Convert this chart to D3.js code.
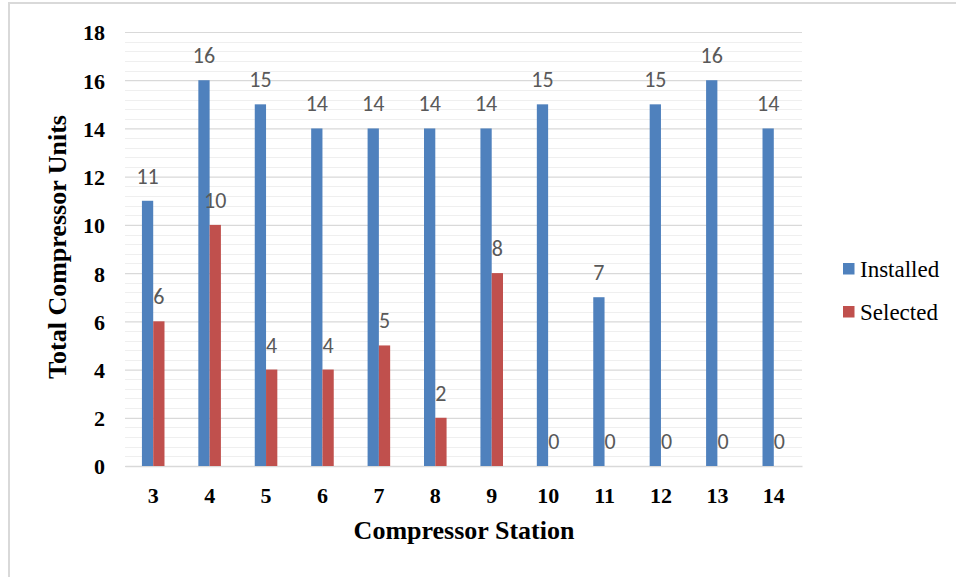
<!DOCTYPE html>
<html>
<head>
<meta charset="utf-8">
<script src="https://cdn.jsdelivr.net/npm/d3@7"></script>
<style>
html,body{margin:0;padding:0;background:#fff;}
svg{display:block;}
</style>
</head>
<body>
<svg id="chart" width="956" height="577"></svg>
<script>
const stations = ["3","4","5","6","7","8","9","10","11","12","13","14"];
const seriesNames = ["Installed","Selected"];
const installed = [11,16,15,14,14,14,14,15,7,15,16,14];
const selected = [6,10,4,4,5,2,8,0,0,0,0,0];
const yTicks = [0,2,4,6,8,10,12,14,16,18];
const colors = ["#4f81bd","#c0504d"];

const SERIF = "Liberation Serif, Times New Roman, serif";
const svg = d3.select("#chart");
const W = 956, H = 577;
const m = {left:125, right:802, top:32, bottom:466};

// frame
svg.append("rect").attr("x",9).attr("y",3).attr("width",W).attr("height",H)
  .attr("fill","#fff").attr("stroke","#d9d9d9").attr("stroke-width",2);

const x0 = d3.scaleBand().domain(stations).range([m.left, m.right]).padding(0);
const x1 = d3.scaleBand().domain(seriesNames).range([0, x0.bandwidth()]).paddingInner(0).paddingOuter(1.5);
const y = d3.scaleLinear().domain([0,18]).range([m.bottom, m.top]);

// minor gridlines
const minor = d3.range(0, 18.001, 0.4).filter(v => Math.abs(v/2 - Math.round(v/2)) > 1e-6);
svg.append("g").selectAll("line").data(minor).join("line")
  .attr("x1", m.left).attr("x2", m.right)
  .attr("y1", d => Math.round(y(d))+0.5).attr("y2", d => Math.round(y(d))+0.5)
  .attr("stroke","#efefef").attr("stroke-width",1);

// major gridlines via axis
const yAxis = d3.axisLeft(y).tickValues(yTicks).tickSize(-(m.right-m.left)).tickFormat(d3.format("d"));
const gy = svg.append("g").attr("transform",`translate(${m.left},0)`).call(yAxis);
gy.select(".domain").remove();
gy.selectAll(".tick line").attr("stroke","#d9d9d9").attr("stroke-width",1.2);
gy.selectAll(".tick text")
  .attr("x",-20).attr("dy","0.36em")
  .attr("font-family",SERIF)
  .attr("font-weight","bold").attr("font-size","22px").attr("fill","#000");

// x axis
const xAxis = d3.axisBottom(x0).tickSize(0);
const gx = svg.append("g").attr("transform",`translate(0,${m.bottom})`).call(xAxis);
gx.select(".domain").attr("stroke","#d9d9d9").attr("stroke-width",1.5);
gx.selectAll(".tick text")
  .attr("y",37).attr("dy",0)
  .attr("font-family",SERIF)
  .attr("font-weight","bold").attr("font-size","22px").attr("fill","#000");

// bars
const data = stations.map((s,i) => ({station:s, vals:[installed[i], selected[i]]}));
const groups = svg.append("g").selectAll("g").data(data).join("g")
  .attr("transform", d => `translate(${x0(d.station)},0)`);
groups.selectAll("rect").data(d => d.vals.map((v,k)=>({k, v}))).join("rect")
  .attr("x", d => x1(seriesNames[d.k]))
  .attr("width", x1.bandwidth())
  .attr("y", d => y(d.v))
  .attr("height", d => y(0) - y(d.v))
  .attr("fill", d => colors[d.k]);
groups.selectAll("text").data(d => d.vals.map((v,k)=>({k, v}))).join("text")
  .attr("x", d => x1(seriesNames[d.k]) + x1.bandwidth()/2)
  .attr("y", d => y(d.v) - 17)
  .attr("text-anchor","middle")
  .attr("font-family","Carlito, Calibri, Lato, sans-serif")
  .attr("font-size","22px").attr("fill","#595959")
  .text(d => d.v);

// axis titles
svg.append("text")
  .attr("transform","translate(66,247) rotate(-90)")
  .attr("text-anchor","middle")
  .attr("font-family",SERIF)
  .attr("font-weight","bold").attr("font-size","26px").attr("fill","#000")
  .text("Total Compressor Units");
svg.append("text")
  .attr("x",464).attr("y",539)
  .attr("text-anchor","middle")
  .attr("font-family",SERIF)
  .attr("font-weight","bold").attr("font-size","26px").attr("fill","#000")
  .text("Compressor Station");

// legend
const leg = svg.append("g").selectAll("g").data(seriesNames).join("g")
  .attr("transform",(d,i)=>`translate(843,${263 + i*43})`);
leg.append("rect").attr("width",11.5).attr("height",11.5).attr("fill",(d,i)=>colors[i]);
leg.append("text").attr("x",17).attr("y",13.5)
  .attr("font-family",SERIF)
  .attr("font-size","23px").attr("fill","#000")
  .text(d=>d);
</script>
</body>
</html>
